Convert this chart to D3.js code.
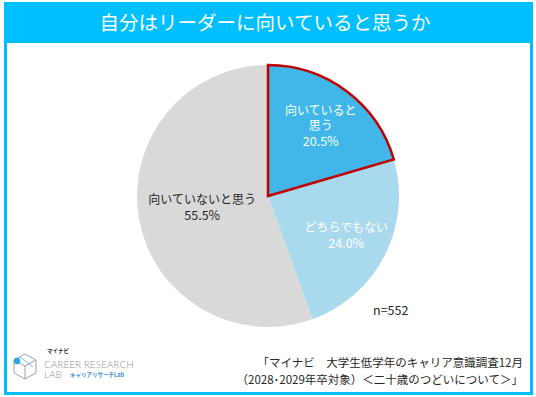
<!DOCTYPE html>
<html>
<head>
<meta charset="utf-8">
<script src="https://cdn.jsdelivr.net/npm/d3@7"></script>
<style>
  html, body { margin: 0; padding: 0; background: #fff; }
  svg { display: block; font-family: "Noto Sans CJK JP", "Noto Sans", sans-serif; }
</style>
</head>
<body>
<svg id="chart" width="536" height="397"></svg>
<script>
// Datos del gráfico
var categories = ["向いていると思う", "どちらでもない", "向いていないと思う"];
var values = [20.5, 24.0, 55.5];
var labelLines = [["向いていると", "思う"], ["どちらでもない"], ["向いていないと思う"]];
var sliceColors = ["#41b7e9", "#a9d9ed", "#d9d9d9"];
var titleText = "自分はリーダーに向いていると思うか";
var sampleText = "n=552";
var sourceLines = ["「マイナビ　大学生低学年のキャリア意識調査12月", "（2028･2029年卒対象）＜二十歳のつどいについて＞」"];

var cx = 268, cy = 196, radius = 131;
var svg = d3.select("#chart");

// Marco y barra de título
svg.append("rect")
  .attr("x", 5.5).attr("y", 3.5)
  .attr("width", 526).attr("height", 390)
  .attr("fill", "#fff")
  .attr("stroke", "#00bfff")
  .attr("stroke-width", 3);

svg.append("rect")
  .attr("x", 4).attr("y", 2)
  .attr("width", 529).attr("height", 41)
  .attr("fill", "#00bfff");

svg.append("text")
  .attr("x", 265).attr("y", 30)
  .attr("text-anchor", "middle")
  .attr("fill", "#fff")
  .style("font-size", "19.5px")
  .text(titleText);

// Pie
var data = categories.map(function (c, i) {
  return { name: c, value: values[i], lines: labelLines[i], color: sliceColors[i] };
});

var pie = d3.pie().sort(null).value(function (d) { return d.value; });
var arcs = pie(data);
var arc = d3.arc().innerRadius(0).outerRadius(radius);

var g = svg.append("g").attr("transform", "translate(" + cx + "," + cy + ")");

g.selectAll(".slice")
  .data(arcs)
  .enter()
  .append("path")
  .attr("class", "slice")
  .attr("d", arc)
  .attr("fill", function (d) { return d.data.color; });

// Borde rojo del primer sector
g.append("path")
  .attr("d", arc(arcs[0]))
  .attr("fill", "none")
  .attr("stroke", "#c00000")
  .attr("stroke-width", 2.5)
  .attr("stroke-linejoin", "miter");

// Etiquetas (una línea = un text)
var lineH = 15.5;
arcs.forEach(function (d, i) {
  var share = (d.endAngle - d.startAngle) / (2 * Math.PI);
  var lr = share > 0.5 ? radius * 0.51 : radius * 0.67;
  var c = d3.arc().innerRadius(lr).outerRadius(lr).centroid(d);
  var lines = d.data.lines.concat([d.data.value.toFixed(1) + "%"]);
  var y0 = c[1] - (lines.length - 1) * lineH / 2;
  lines.forEach(function (l, j) {
    g.append("text")
      .attr("x", c[0])
      .attr("y", y0 + j * lineH)
      .attr("dy", "0.36em")
      .attr("text-anchor", "middle")
      .attr("fill", i === 2 ? "#262626" : "#fff")
      .style("font-size", j === lines.length - 1 ? "12.5px" : "12px")
      .text(l);
  });
});

// n
svg.append("text")
  .attr("x", 373).attr("y", 315)
  .attr("fill", "#262626")
  .style("font-size", "12.5px")
  .text(sampleText);

// Fuente
sourceLines.forEach(function (s, i) {
  svg.append("text")
    .attr("x", 523).attr("y", 367 + i * 17)
    .attr("text-anchor", "end")
    .attr("fill", "#262626")
    .style("font-size", "11.5px")
    .text(s);
});

// Logo
var logo = svg.append("g").attr("fill", "none").attr("stroke", "#9aa3ad").attr("stroke-width", 1);
logo.append("path").attr("d", "M25,354 L36,360 L36,373 L25,379 L14,373 L14,360 Z");
logo.append("path").attr("d", "M14,360 L25,366 L36,360 M25,366 L25,379");
logo.append("path").attr("d", "M20,357 L33,367").attr("stroke", "#7fc3e6");
svg.append("circle").attr("cx", 17).attr("cy", 361).attr("r", 3.2).attr("fill", "#2ea7e0");
svg.append("text").attr("x", 47).attr("y", 353)
  .attr("fill", "#333").style("font-size", "5.5px").style("font-weight", "bold").text("マイナビ");
svg.append("text").attr("x", 44).attr("y", 367.5)
  .attr("fill", "#8a939c").style("font-size", "10px").style("font-family", "Lato, sans-serif")
  .style("font-weight", "300").text("CAREER RESEARCH");
svg.append("text").attr("x", 44).attr("y", 378)
  .attr("fill", "#8a939c").style("font-size", "10px").style("font-family", "Lato, sans-serif")
  .style("font-weight", "300").text("LAB");
svg.append("text").attr("x", 70).attr("y", 377)
  .attr("fill", "#3d8fd8").style("font-size", "5.5px").style("font-weight", "bold").text("キャリアリサーチLab");
</script>
</body>
</html>
